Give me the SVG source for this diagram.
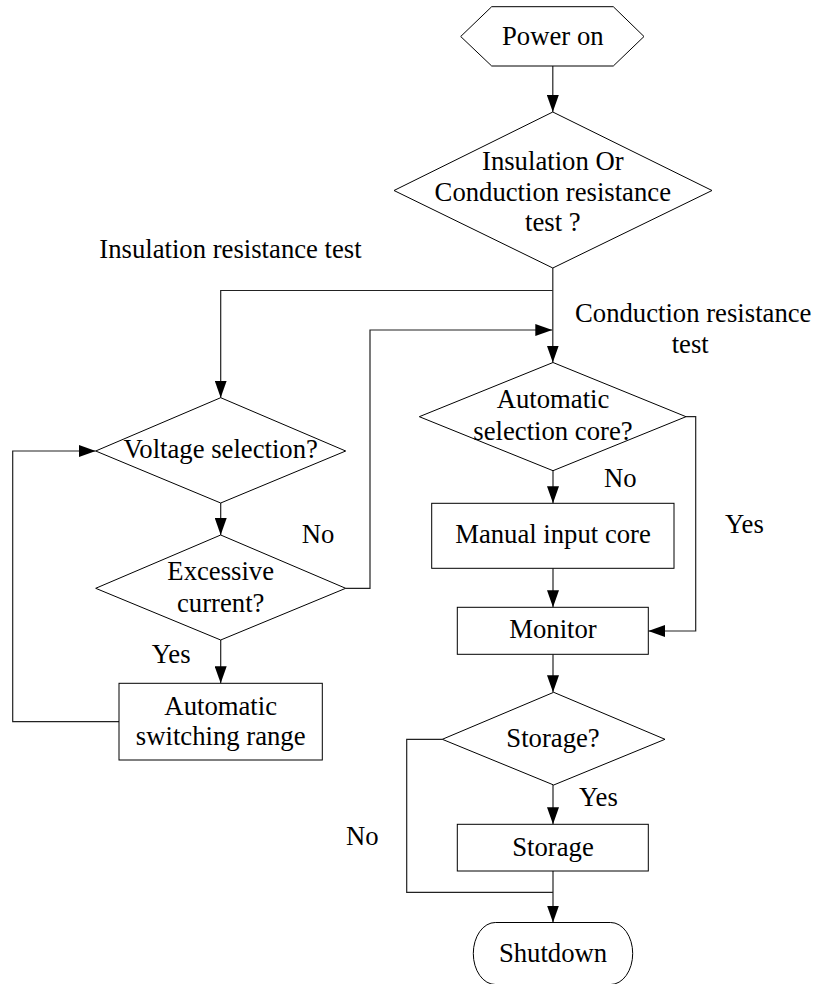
<svg xmlns="http://www.w3.org/2000/svg" width="813" height="984" viewBox="0 0 813 984">
<defs>
<marker id="arr" markerUnits="userSpaceOnUse" markerWidth="18" markerHeight="12" refX="17" refY="6" orient="auto">
<path d="M0,0 L17,6 L0,12 z" fill="#000"/>
</marker>
<style>
.shape{fill:#fff;stroke:#000;stroke-width:1}
.t{font-family:"Liberation Serif","Times New Roman",serif;font-size:26.7px;fill:#000}
.c{text-anchor:middle}
.conn path{fill:none;stroke:#222;stroke-width:1.2}
.a{marker-end:url(#arr)}
</style>
</defs>
<rect width="813" height="984" fill="#fff"/>
<g id="connectors" class="conn">
<path class="a" d="M552.8,66 V112"/>
<path class="a" d="M552.8,268 V362.5"/>
<path class="a" d="M552.8,290.5 H220.7 V397.7"/>
<path class="a" d="M345.7,588.3 H370 V330 H552.3"/>
<path class="a" d="M220.7,503 V535"/>
<path class="a" d="M220.7,640 V683.3"/>
<path class="a" d="M119,721.7 H12.7 V451 H95.7"/>
<path class="a" d="M686,416.7 H695.7 V631 H648.3"/>
<path class="a" d="M553,470.7 V503.3"/>
<path class="a" d="M553,568.3 V607.3"/>
<path class="a" d="M553,654.3 V692.3"/>
<path class="a" d="M553,785 V824.3"/>
<path class="a" d="M553,871 V922.5"/>
<path d="M442.3,739.3 H406.7 V892.3 H553"/>
</g>
<g id="power-on">
<polygon class="shape" points="460.7,36.5 491.7,6.7 613.3,6.7 644,36.5 613.3,66 491.7,66"/>
<text class="t c" x="552.8" y="45">Power on</text>
</g>
<g id="test-type">
<polygon class="shape" points="552.8,112 712,190.5 552.8,268 394,190.5"/>
<text class="t c" x="552.8" y="170">Insulation Or</text>
<text class="t c" x="552.8" y="200.7">Conduction resistance</text>
<text class="t c" x="552.8" y="230.7">test ?</text>
</g>
<g id="voltage-selection">
<polygon class="shape" points="220.7,397.7 345.7,451 220.7,503 95.7,451"/>
<text class="t c" x="220.7" y="458.3">Voltage selection?</text>
</g>
<g id="excessive-current">
<polygon class="shape" points="220.7,535 345.7,588.3 220.7,640 95.7,588.3"/>
<text class="t c" x="220.7" y="580">Excessive</text>
<text class="t c" x="220.7" y="611.7">current?</text>
</g>
<g id="auto-switching">
<rect class="shape" x="119" y="683.3" width="203.3" height="76.7"/>
<text class="t c" x="220.7" y="714.5">Automatic</text>
<text class="t c" x="220.7" y="745">switching range</text>
</g>
<g id="auto-selection">
<polygon class="shape" points="553,362.5 686,416.7 553,470.7 419.3,416.7"/>
<text class="t c" x="553" y="408">Automatic</text>
<text class="t c" x="553" y="440">selection core?</text>
</g>
<g id="manual-input">
<rect class="shape" x="431.7" y="503.3" width="242.3" height="65"/>
<text class="t c" x="553" y="543.3">Manual input core</text>
</g>
<g id="monitor">
<rect class="shape" x="457.3" y="607.3" width="191" height="47"/>
<text class="t c" x="553" y="638.3">Monitor</text>
</g>
<g id="storage-q">
<polygon class="shape" points="553.7,692.3 665,739.3 553.7,785 442.3,739.3"/>
<text class="t c" x="553" y="746.7">Storage?</text>
</g>
<g id="storage">
<rect class="shape" x="457.3" y="824.3" width="191" height="46.7"/>
<text class="t c" x="553" y="855.7">Storage</text>
</g>
<g id="shutdown">
<rect class="shape" x="473.3" y="922.5" width="159.4" height="62" rx="22" ry="31"/>
<text class="t c" x="553" y="961.7">Shutdown</text>
</g>
<g id="labels">
<text class="t" x="99.3" y="258.3">Insulation resistance test</text>
<text class="t" x="575" y="321.7">Conduction resistance</text>
<text class="t" x="671.7" y="352.7">test</text>
<text class="t" x="301.7" y="543">No</text>
<text class="t" x="151.7" y="663">Yes</text>
<text class="t" x="604" y="487">No</text>
<text class="t" x="725" y="532.7">Yes</text>
<text class="t" x="579" y="806">Yes</text>
<text class="t" x="346" y="845">No</text>
</g>
</svg>
